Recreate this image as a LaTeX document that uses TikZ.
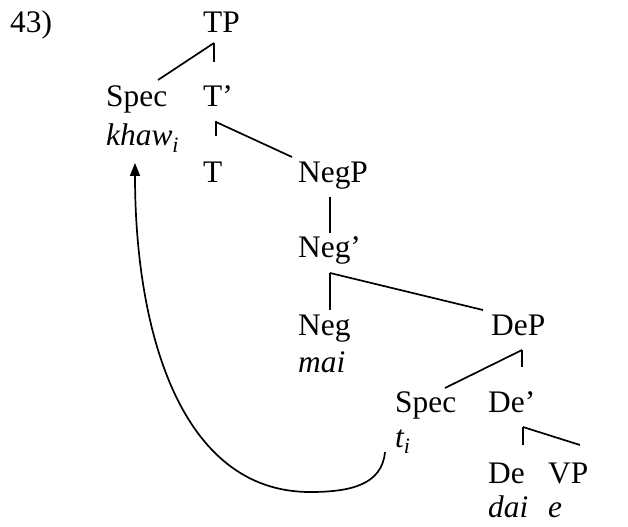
\documentclass[tikz,border=0pt]{standalone}
\usepackage{fontspec}
\setmainfont{Liberation Serif}
\usetikzlibrary{arrows.meta,calc}

\begin{document}
\begin{tikzpicture}[x=1bp,y=-1bp,font=\fontsize{31.5}{37}\selectfont,
    lbl/.style={anchor=base west,inner sep=0pt},
    br/.style={line width=1.7bp},
    move/.style={line width=1.7bp,-{Triangle[width=10bp,length=13bp]}}]
  \useasboundingbox (0,0) rectangle (628,527);
  % labels
  \node[lbl] (num) at (10,33) {43)};
  \node[lbl] (tp) at (203,33) {TP};
  \node[lbl] (specA) at (106,107) {Spec};
  \node[lbl] (tbar) at (203,107) {T’};
  \node[lbl] (khaw) at (106,146) {\textit{khaw\textsubscript{i}}};
  \node[lbl] (t) at (203,183) {T};
  \node[lbl] (negp) at (298,183) {NegP};
  \node[lbl] (negbar) at (298,257) {Neg’};
  \node[lbl] (neg) at (298,335) {Neg};
  \node[lbl] (mai) at (298,372) {\textit{mai}};
  \node[lbl] (dep) at (491,335) {DeP};
  \node[lbl] (specB) at (395,412) {Spec};
  \node[lbl] (debar) at (488,412) {De’};
  \node[lbl] (ti) at (395,447) {\textit{t\textsubscript{i}}};
  \node[lbl] (de) at (488,483) {De};
  \node[lbl] (vp) at (548,483) {VP};
  \node[lbl] (dai) at (488,517) {\textit{dai}};
  \node[lbl] (e) at (548,517) {\textit{e}};
  % branches
  \draw[br] ($(tp.base west)+(11,10)$) -- ($(specA.base west)+(52,-27)$);
  \draw[br] ($(tp.base west)+(11,10)$) -- ($(tbar.base west)+(11,-45)$);
  \draw[br] ($(tbar.base west)+(13,14)$) -- ($(t.base west)+(13,-47)$);
  \draw[br] ($(tbar.base west)+(13,15)$) -- ($(negp.base west)+(-6,-26)$);
  \draw[br] ($(negp.base west)+(32,14)$) -- ($(negbar.base west)+(32,-24)$);
  \draw[br] ($(negbar.base west)+(32,16)$) -- ($(neg.base west)+(32,-25)$);
  \draw[br] ($(negbar.base west)+(32,16)$) -- ($(dep.base west)+(-8,-25)$);
  \draw[br] ($(dep.base west)+(31,15)$) -- ($(specB.base west)+(50,-24)$);
  \draw[br] ($(dep.base west)+(31,15)$) -- ($(debar.base west)+(34,-45)$);
  \draw[br] ($(debar.base west)+(35,15)$) -- ($(de.base west)+(35,-38)$);
  \draw[br] ($(debar.base west)+(35,15)$) -- ($(vp.base west)+(32,-38)$);
  % movement
  \coordinate (bend) at (310,492);
  \draw[move] ($(ti.base west)+(-10,5)$) .. controls +(-3,33) and +(40,0) .. (bend)
    .. controls +(-130,0) and +(0,167) .. ($(khaw.base west)+(29,17)$);
\end{tikzpicture}
\end{document}
